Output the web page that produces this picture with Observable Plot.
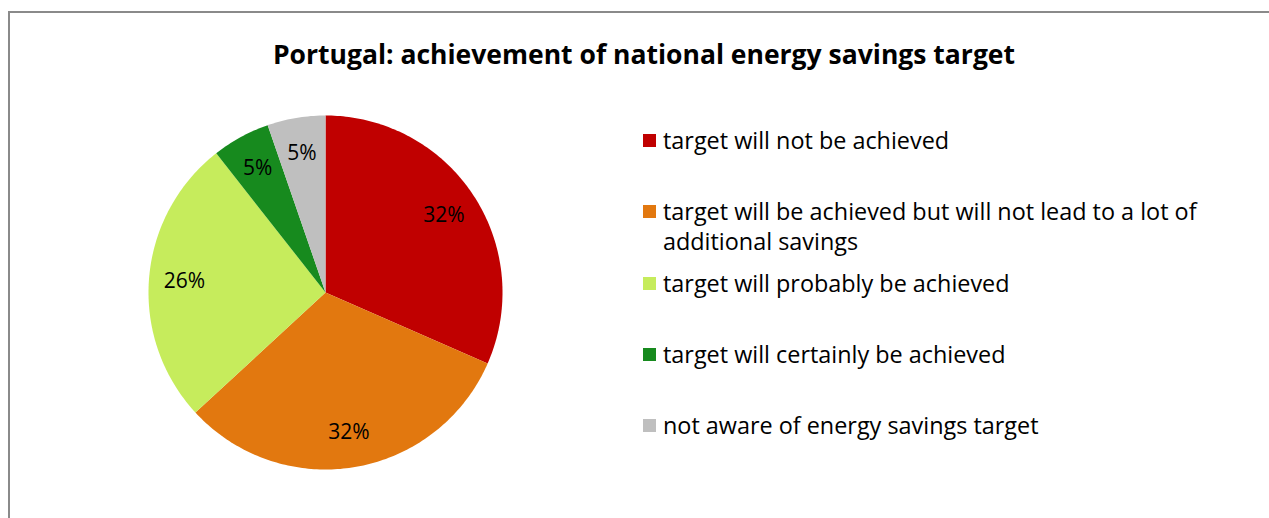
<!DOCTYPE html>
<html>
<head>
<meta charset="utf-8">
<script src="https://cdn.jsdelivr.net/npm/d3@7"></script>
<script src="https://cdn.jsdelivr.net/npm/@observablehq/plot@0.6"></script>
<style>
  html, body { margin: 0; padding: 0; background: #fff; }
  #wrap { position: relative; width: 1269px; height: 518px; overflow: hidden; font-family: "Open Sans", Lato, sans-serif; color: #000; }
  #frame { position: absolute; left: 8px; top: 11px; width: 1300px; height: 600px; border-top: 2px solid #8a8a8a; border-left: 2px solid #8a8a8a; }
  #title { position: absolute; left: 0; width: 1288px; top: 35px; text-align: center; font-weight: bold; font-size: 26.5px; line-height: 38px; }
  #pie { position: absolute; left: 145px; top: 112px; }
  .leg { position: absolute; left: 643px; font-size: 23.4px; line-height: 30px; width: 620px; white-space: nowrap; }
  .leg .sw { position: absolute; left: 0; top: 9px; width: 13px; height: 13px; }
  .leg .tx { margin-left: 20px; }
</style>
</head>
<body>
<div id="wrap">
  <div id="frame"></div>
  <div id="title"></div>
  <div id="pie"></div>
  <div id="legend"></div>
</div>
<script>
const title = "Portugal: achievement of national energy savings target";
const categories = [
  "target will not be achieved",
  "target will be achieved but will not lead to a lot of additional savings",
  "target will probably be achieved",
  "target will certainly be achieved",
  "not aware of energy savings target"
];
const legendLines = [
  ["target will not be achieved"],
  ["target will be achieved but will not lead to a lot of", "additional savings"],
  ["target will probably be achieved"],
  ["target will certainly be achieved"],
  ["not aware of energy savings target"]
];
const values = [31.6, 31.6, 26.3, 5.3, 5.3];
const valueLabels = ["32%", "32%", "26%", "5%", "5%"];
const colors = ["#c00000", "#e2780f", "#c6ec5c", "#178a1e", "#bfbfbf"];

document.getElementById("title").textContent = title;

// pie geometry via d3.pie
const arcs = d3.pie().sort(null).startAngle(0).endAngle(2 * Math.PI)(values);
const slicePts = [];
arcs.forEach((a, i) => {
  slicePts.push({cat: categories[i], x: 0, y: 0});
  const n = Math.max(8, Math.ceil((a.endAngle - a.startAngle) * 60));
  for (let k = 0; k <= n; k++) {
    const t = a.startAngle + (a.endAngle - a.startAngle) * k / n;
    slicePts.push({cat: categories[i], x: Math.sin(t), y: Math.cos(t)});
  }
});
const labelPts = arcs.map((a, i) => {
  const m = (a.startAngle + a.endAngle) / 2;
  return {label: valueLabels[i], x: 0.8 * Math.sin(m), y: 0.8 * Math.cos(m)};
});

const ext = 180 / 177;
const chart = Plot.plot({
  width: 360, height: 360, margin: 0,
  x: {domain: [-ext, ext], axis: null},
  y: {domain: [-ext, ext], axis: null},
  color: {domain: categories, range: colors},
  style: {fontFamily: "'Open Sans', Lato, sans-serif", background: "transparent", overflow: "visible"},
  marks: [
    Plot.line(slicePts, {x: "x", y: "y", z: "cat", fill: "cat", stroke: "none", curve: "linear"}),
    Plot.text(labelPts, {x: "x", y: "y", text: "label", fontSize: 21, fill: "#000"})
  ]
});
document.getElementById("pie").appendChild(chart);

// legend
const legend = document.getElementById("legend");
legendLines.forEach((lines, i) => {
  const row = document.createElement("div");
  row.className = "leg";
  row.style.top = (125 + i * 71.25) + "px";
  const sw = document.createElement("div");
  sw.className = "sw";
  sw.style.background = colors[i];
  const tx = document.createElement("div");
  tx.className = "tx";
  tx.innerHTML = lines.map(l => l.replace(/&/g, "&amp;").replace(/</g, "&lt;")).join("<br>");
  row.appendChild(sw);
  row.appendChild(tx);
  legend.appendChild(row);
});
</script>
</body>
</html>
